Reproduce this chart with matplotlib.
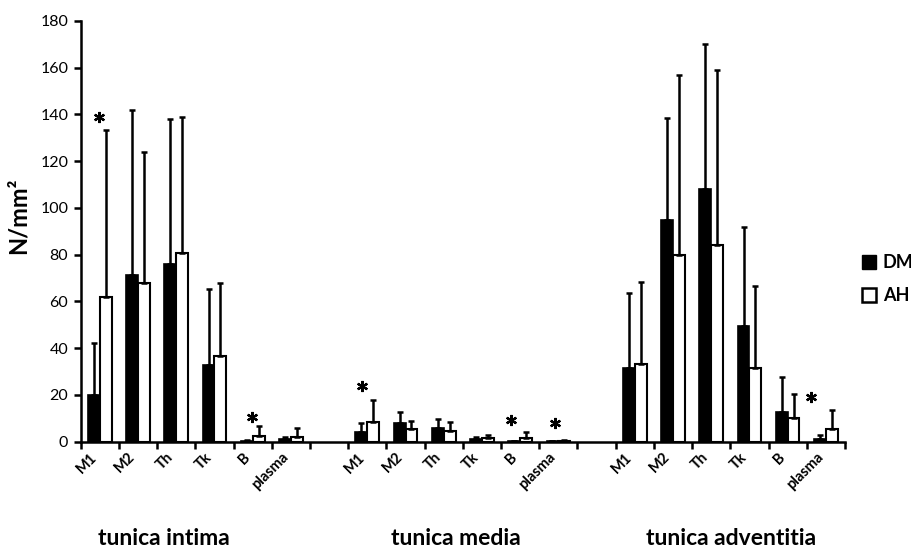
import numpy as np
import matplotlib
matplotlib.use("Agg")
import matplotlib.pyplot as plt
from matplotlib.patches import Patch

plt.rcParams['font.family'] = 'Lato'

cells = ["M1", "M2", "Th", "Tk", "B", "plasma"]
groups = ["tunica intima", "tunica media", "tunica adventitia"]

dm_intima = [20, 71.5, 75.8, 32.8, 0.3, 1.0]
dm_intima_err = [22, 70.5, 62, 32.6, 0.3, 0.8]
ah_intima = [62, 68, 80.8, 36.6, 2.6, 1.8]
ah_intima_err = [71.5, 56, 58, 31.4, 4.2, 4.0]

dm_media = [4.3, 8, 5.7, 1.2, 0.3, 0.3]
dm_media_err = [3.5, 4.5, 4.0, 0.8, 0.2, 0.2]
ah_media = [8.5, 5.3, 4.7, 1.5, 1.5, 0.5]
ah_media_err = [9.5, 3.7, 3.6, 1.4, 2.8, 0.3]

dm_adv = [31.4, 94.7, 108, 49.4, 12.8, 1.3]
dm_adv_err = [32.4, 43.9, 62.3, 42.5, 15, 1.6]
ah_adv = [33.2, 80, 84, 31.4, 10, 5.3]
ah_adv_err = [35.2, 76.8, 74.8, 35.1, 10.3, 8.2]

# significance stars: (slot position, height)
star_x = [0.49, 4.47, 7.35, 11.27, 12.42, 19.11]
star_y = [138.7, 10.6, 24, 9.4, 8.2, 18.9]

dm = dm_intima + dm_media + dm_adv
dm_err = dm_intima_err + dm_media_err + dm_adv_err
ah = ah_intima + ah_media + ah_adv
ah_err = ah_intima_err + ah_media_err + ah_adv_err

slot_starts = [0, 7, 14]
group_label_x = [2.18, 9.81, 17.03]
centers = np.concatenate([np.arange(6) + s + 0.5 for s in slot_starts])

fig = plt.figure(figsize=(9.12, 5.48), dpi=100)
ax = fig.add_axes([0.0885, 0.194, 0.838, 0.768])

w = 0.31
ekw = dict(elinewidth=1.8, capsize=2.2, capthick=1.8, ecolor='black')
ax.bar(centers - w / 2, dm, w, color='black', edgecolor='black', linewidth=1.2,
       yerr=[np.zeros(len(dm)), dm_err], error_kw=ekw, label='DM', zorder=2)
ax.bar(centers + w / 2, ah, w, color='white', edgecolor='black', linewidth=1.5,
       yerr=[np.zeros(len(ah)), ah_err], error_kw=ekw, label='AH', zorder=2)

ax.plot(star_x, star_y, linestyle='none', marker=(6, 2, 0), markersize=8,
        markeredgewidth=1.6, color='black', zorder=3, clip_on=False)

ax.set_xlim(0, 20)
ax.set_ylim(0, 180)
ax.set_yticks(np.arange(0, 181, 20))
# category labels as major ticks (no tick marks), slot boundaries as minor ticks
ax.set_xticks(centers, cells * 3, rotation=45, ha='right',
              fontsize=10.5, fontweight='bold')
ax.set_xticks(np.arange(0, 21, 1), minor=True)
ax.tick_params(axis='x', which='major', length=0, pad=6)
ax.tick_params(axis='x', which='minor', length=5, width=1.8, direction='out')
ax.tick_params(axis='y', length=5, width=1.8, direction='out', labelsize=11.5,
               pad=4)

for s in ['top', 'right']:
    ax.spines[s].set_visible(False)
for s in ['left', 'bottom']:
    ax.spines[s].set_linewidth(1.8)

ax.set_ylabel("N/mm²", fontsize=17, fontweight='bold')
ax.yaxis.set_label_coords(-0.082, 0.536)
ax.yaxis.label.set_va('center')
ax.yaxis.label.set_ha('center')

for gx, g in zip(group_label_x, groups):
    ax.text(gx, -0.245, g, transform=ax.get_xaxis_transform(),
            ha='center', va='baseline', fontsize=16.5, fontweight='bold')

handles = [Patch(facecolor='black', edgecolor='black', label='DM'),
           Patch(facecolor='white', edgecolor='black', linewidth=1.8, label='AH')]
leg = fig.legend(handles=handles, loc='center left',
                 bbox_to_anchor=(862 / 912, 1 - 279 / 548),
                 frameon=False, prop={'size': 13, 'weight': 'bold'},
                 handlelength=0.8, handleheight=0.8, handletextpad=0.35,
                 labelspacing=0.9, borderpad=0, borderaxespad=0)

fig.savefig("out.png", dpi=100)
